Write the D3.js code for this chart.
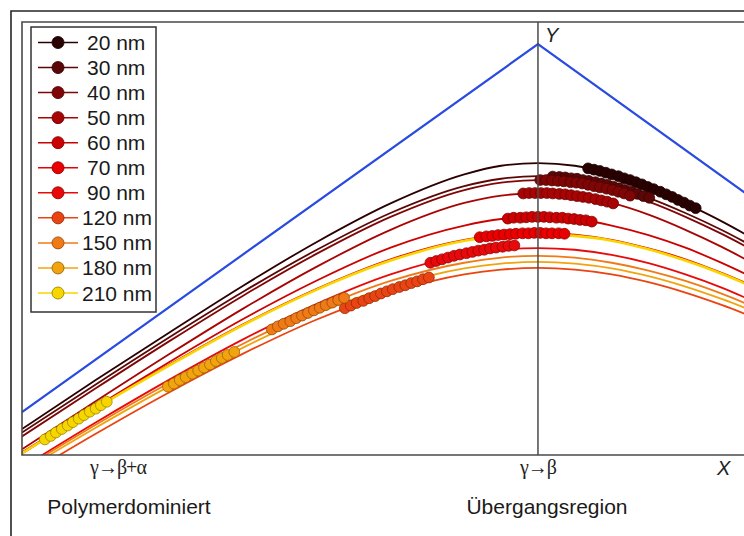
<!DOCTYPE html>
<html><head><meta charset="utf-8">
<script src="https://cdn.jsdelivr.net/npm/d3@7"></script>
<style>body{margin:0;background:#fff}svg{display:block}</style>
</head><body>
<svg id="c" width="744" height="536"></svg>
<script>
// ---- data (abstract units) ----
const labels = ["20 nm","30 nm","40 nm","50 nm","60 nm","70 nm","90 nm","120 nm","150 nm","180 nm","210 nm"];
const colors = ["#2a0101","#5c0707","#800606","#a80404","#cc0202","#ea0000","#e80a0a","#ea4412","#f07a16","#f2a40e","#f7d600"];
const xGrid = [0,1,2,3,4,5,6,6.5,7,7.5,8,8.5,9,9.5,10];
const y20  = [0.60,1.73,2.83,3.91,4.92,5.81,6.48,6.68,6.74,6.68,6.48,6.19,5.81,5.39,4.92];
const y30  = [0.52,1.63,2.72,3.77,4.74,5.59,6.21,6.38,6.44,6.38,6.21,5.94,5.59,5.19,4.74];
const y40  = [0.43,1.54,2.63,3.68,4.65,5.50,6.12,6.29,6.35,6.29,6.12,5.85,5.50,5.10,4.65];
const y50  = [0.13,1.24,2.33,3.38,4.35,5.20,5.82,5.99,6.05,5.99,5.82,5.55,5.20,4.80,4.35];
const y60  = [0.03,1.11,2.15,3.14,4.03,4.79,5.30,5.45,5.50,5.45,5.30,5.08,4.79,4.43,4.03];
const y70  = [0.06,1.10,2.09,3.02,3.84,4.52,4.97,5.09,5.13,5.09,4.97,4.77,4.52,4.20,3.84];
const y90  = [-0.29,0.75,1.74,2.67,3.49,4.17,4.62,4.74,4.78,4.74,4.62,4.43,4.17,3.86,3.49];
const y120 = [-0.52,0.49,1.45,2.34,3.13,3.75,4.17,4.28,4.32,4.28,4.17,3.99,3.75,3.46,3.13];
const y150 = [-0.33,0.70,1.67,2.57,3.37,4.02,4.44,4.56,4.60,4.56,4.44,4.26,4.02,3.72,3.37];
const y180 = [-0.38,0.63,1.59,2.48,3.27,3.89,4.31,4.42,4.46,4.42,4.31,4.13,3.89,3.60,3.27];
const y210 = [0.04,1.08,2.07,3.00,3.82,4.49,4.95,5.06,5.10,5.06,4.95,4.75,4.49,4.18,3.82];
const curves = [y20,y30,y40,y50,y60,y70,y90,y120,y150,y180,y210];

const blueX = [0,7,10];
const blueY = [0.99,9.49,5.82];

// measured points (dots)
const d20x = [7.68,7.76,7.84,7.92,8.00,8.09,8.17,8.25,8.33,8.41,8.49,8.57,8.66,8.74,8.82,8.90,8.98,9.06,9.14];
const d20y = [6.62,6.59,6.56,6.52,6.48,6.44,6.39,6.35,6.30,6.25,6.19,6.14,6.08,6.02,5.96,5.89,5.83,5.76,5.70];
const d30x = [7.20,7.29,7.37,7.45,7.53,7.61,7.69,7.78,7.86,7.94,8.02,8.10,8.18,8.27,8.35,8.43,8.51];
const d30y = [6.43,6.42,6.41,6.39,6.38,6.35,6.33,6.30,6.27,6.24,6.20,6.16,6.12,6.08,6.03,5.98,5.94];
const d40x = [7.03,7.11,7.19,7.27,7.35,7.44,7.52,7.60,7.68,7.76,7.84,7.93,8.01,8.09,8.17,8.25];
const d40y = [6.35,6.35,6.34,6.33,6.32,6.30,6.29,6.27,6.24,6.21,6.18,6.15,6.12,6.08,6.04,5.99];
const d50x = [6.80,6.88,6.96,7.04,7.12,7.20,7.29,7.37,7.45,7.53,7.61,7.69,7.78,7.86,7.94,8.02];
const d50y = [6.04,6.05,6.05,6.05,6.05,6.04,6.03,6.02,6.00,5.98,5.96,5.94,5.91,5.88,5.85,5.81];
const d60x = [6.59,6.67,6.76,6.84,6.92,7.00,7.08,7.16,7.25,7.33,7.41,7.49,7.57,7.65,7.73];
const d60y = [5.46,5.48,5.48,5.49,5.50,5.50,5.50,5.49,5.48,5.48,5.46,5.45,5.43,5.42,5.39];
const d70x = [6.21,6.30,6.38,6.46,6.54,6.62,6.70,6.79,6.87,6.95,7.03,7.11,7.19,7.28,7.36];
const d70y = [5.03,5.05,5.06,5.08,5.09,5.10,5.11,5.12,5.12,5.13,5.13,5.12,5.12,5.12,5.11];
const d90x = [5.54,5.62,5.70,5.78,5.86,5.94,6.03,6.11,6.19,6.27,6.35,6.43,6.52,6.60,6.68];
const d90y = [4.44,4.48,4.52,4.56,4.60,4.63,4.66,4.69,4.72,4.74,4.77,4.79,4.81,4.83,4.84];
const d120x = [4.38,4.46,4.54,4.63,4.71,4.79,4.87,4.95,5.03,5.12,5.20,5.28,5.36,5.44,5.52];
const d120y = [3.39,3.45,3.51,3.56,3.62,3.67,3.73,3.78,3.83,3.88,3.92,3.97,4.01,4.06,4.10];
const d150x = [3.39,3.47,3.55,3.64,3.72,3.80,3.88,3.96,4.04,4.12,4.21,4.29,4.37];
const d150y = [2.90,2.97,3.03,3.09,3.16,3.22,3.28,3.34,3.40,3.46,3.52,3.58,3.63];
const d180x = [1.98,2.06,2.14,2.22,2.31,2.39,2.47,2.55,2.63,2.71,2.79,2.88];
const d180y = [1.58,1.65,1.73,1.80,1.88,1.95,2.02,2.09,2.17,2.24,2.31,2.38];
const d210x = [0.31,0.39,0.46,0.54,0.62,0.69,0.77,0.84,0.92,1.00,1.07,1.15];
const d210y = [0.36,0.44,0.52,0.60,0.68,0.76,0.84,0.92,1.00,1.07,1.15,1.23];
const dotsX = [d20x,d30x,d40x,d50x,d60x,d70x,d90x,d120x,d150x,d180x,d210x];
const dotsY = [d20y,d30y,d40y,d50y,d60y,d70y,d90y,d120y,d150y,d180y,d210y];

const peakX = 7;

// ---- drawing ----
(function(){
const svg = d3.select("#c");
const W = 744, H = 536;
const pL = 22, pT = 22, pB = 455, pR = 759.1;
const x = d3.scaleLinear().domain([0,10]).range([pL, pR]);
const y = d3.scaleLinear().domain([0,10]).range([pB, pT]);

svg.append("rect").attr("width",W).attr("height",H).attr("fill","#fff");

// outer border
svg.append("path").attr("d",`M11,${H+5}V11H${W+5}`).attr("fill","none")
  .attr("stroke","#262626").attr("stroke-width",1.6);

svg.append("defs").append("clipPath").attr("id","pc")
  .append("rect").attr("x",pL).attr("y",pT).attr("width",pR-pL).attr("height",pB-pT);

const plot = svg.append("g").attr("clip-path","url(#pc)");

const line = d3.line().x(d=>x(d[0])).y(d=>y(d[1])).curve(d3.curveMonotoneX);

// blue envelope
plot.append("path").datum(blueX.map((v,i)=>[v,blueY[i]]))
  .attr("d", d3.line().x(d=>x(d[0])).y(d=>y(d[1])))
  .attr("fill","none").attr("stroke","#2a4be0").attr("stroke-width",2.2);

// curves
curves.forEach((c,i)=>{
  plot.append("path").datum(xGrid.map((v,j)=>[v,c[j]]))
    .attr("d",line).attr("fill","none")
    .attr("stroke",colors[i]).attr("stroke-width", i===10?2.6:1.8);
});

// vertical line
svg.append("line").attr("x1",x(peakX)).attr("x2",x(peakX)).attr("y1",pT).attr("y2",pB)
  .attr("stroke","#4a4a4a").attr("stroke-width",1.5);

// dots
dotsX.forEach((xs,i)=>{
  plot.selectAll(null).data(xs.map((v,j)=>[v,dotsY[i][j]])).enter().append("circle")
    .attr("cx",d=>x(d[0])).attr("cy",d=>y(d[1])).attr("r",5.4)
    .attr("fill",colors[i]).attr("stroke",d3.color(colors[i]).darker(1.3)).attr("stroke-width",0.8);
});

// plot frame
svg.append("path").attr("d",`M${W+5},${pT}H${pL}V${pB}H${W+5}`).attr("fill","none")
  .attr("stroke","#4a4a4a").attr("stroke-width",1.6);

// legend
const lg = svg.append("g");
lg.append("rect").attr("x",31).attr("y",27).attr("width",125).attr("height",285)
  .attr("fill","#fff").attr("stroke","#333").attr("stroke-width",1.5);
labels.forEach((lab,i)=>{
  const ly = 42.5 + 25.05*i;
  lg.append("line").attr("x1",38).attr("x2",78).attr("y1",ly).attr("y2",ly)
    .attr("stroke",colors[i]).attr("stroke-width",1.5);
  lg.append("circle").attr("cx",58).attr("cy",ly).attr("r",6)
    .attr("fill",colors[i]).attr("stroke",d3.color(colors[i]).darker(1.3)).attr("stroke-width",0.9);
  lg.append("text").attr("x", lab.length>5?82:87).attr("y",ly+7.5)
    .attr("font-family","Liberation Sans, Arial, sans-serif").attr("font-size",21)
    .attr("fill","#1a1a1a").text(lab);
});

// axis labels
const sans = "Liberation Sans, Arial, sans-serif";
const serif = "Liberation Serif, Times New Roman, serif";
svg.append("text").attr("x",545).attr("y",42).attr("font-family",sans).attr("font-style","italic")
  .attr("font-size",20).attr("fill","#222").text("Y");
svg.append("text").attr("x",717).attr("y",475).attr("font-family",sans).attr("font-style","italic")
  .attr("font-size",20).attr("fill","#222").text("X");
svg.append("text").attr("x",118).attr("y",474).attr("text-anchor","middle")
  .attr("font-family",serif).attr("font-size",20).attr("letter-spacing",-1).attr("fill","#222").text("γ→β+α");
svg.append("text").attr("x",538).attr("y",474).attr("text-anchor","middle")
  .attr("font-family",serif).attr("font-size",20).attr("letter-spacing",-1).attr("fill","#222").text("γ→β");
svg.append("text").attr("x",129).attr("y",514).attr("text-anchor","middle")
  .attr("font-family",sans).attr("font-size",21).attr("fill","#1a1a1a").text("Polymerdominiert");
svg.append("text").attr("x",547).attr("y",514).attr("text-anchor","middle")
  .attr("font-family",sans).attr("font-size",21).attr("fill","#1a1a1a").text("Übergangsregion");
})();
</script>
</body></html>
